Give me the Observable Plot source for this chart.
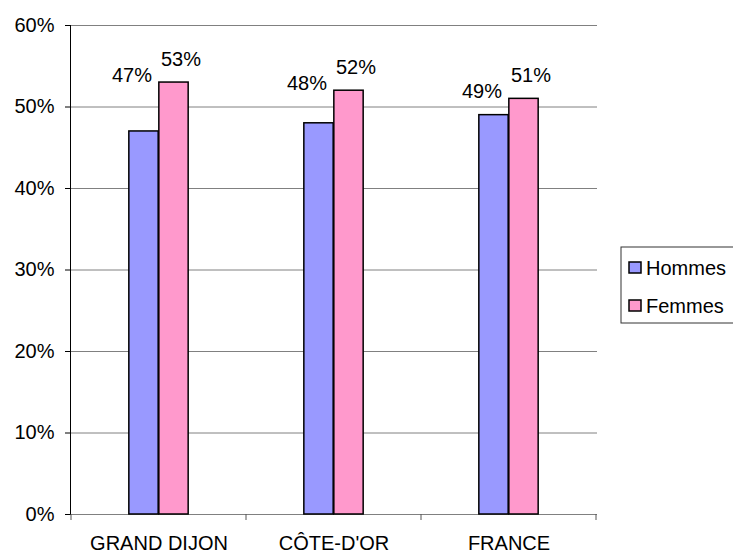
<!DOCTYPE html>
<html>
<head>
<meta charset="utf-8">
<script src="https://cdn.jsdelivr.net/npm/d3@7"></script>
<script src="https://cdn.jsdelivr.net/npm/@observablehq/plot@0.6"></script>
<style>
  html, body { margin: 0; padding: 0; background: #fff; }
  #chart svg { display: block; }
</style>
</head>
<body>
<div id="chart"></div>
<script>
const categories = ["GRAND DIJON", "CÔTE-D'OR", "FRANCE"];
const series = ["Hommes", "Femmes"];
const hommes = [47, 48, 49];
const femmes = [53, 52, 51];
const yTicks = [0, 10, 20, 30, 40, 50, 60];
const colors = ["#9999FF", "#FF99CC"];

const rows = [];
categories.forEach((c, i) => {
  rows.push({category: c, series: "Hommes", value: hommes[i], groupMax: Math.max(hommes[i], femmes[i])});
  rows.push({category: c, series: "Femmes", value: femmes[i], groupMax: Math.max(hommes[i], femmes[i])});
});
const H = rows.filter(d => d.series === "Hommes");
const F = rows.filter(d => d.series === "Femmes");

const W = 733, HT = 553;
const mL = 70, mR = 136, mT = 25, mB = 39;
const bw = (W - mL - mR) / categories.length;
const barW = 30;
const font = "'Liberation Sans', Arial, sans-serif";
const fs = 20;

const plot = Plot.plot({
  width: W,
  height: HT,
  marginLeft: mL,
  marginRight: mR,
  marginTop: mT,
  marginBottom: mB,
  style: {fontFamily: font, fontSize: fs + "px", color: "#000", background: "#fff"},
  x: {domain: categories, padding: 0, label: null},
  y: {domain: [0, 60], label: null},
  color: {domain: series, range: colors},
  marks: [
    Plot.gridY(yTicks, {stroke: "#808080", strokeOpacity: 1}),
    Plot.ruleY([0], {stroke: "#808080"}),
    Plot.frame({anchor: "left", stroke: "#000"}),
    Plot.axisY(yTicks, {tickSize: 5, tickPadding: 11, tickFormat: d => d + "%", stroke: "#000", label: null, fontSize: fs}),
    Plot.axisX({tickSize: 0, tickPadding: 21, label: null, fontSize: fs}),
    Plot.barY(H, {x: "category", y: "value", fill: "series", stroke: "#000", strokeWidth: 1.5,
      insetLeft: bw / 2 - barW, insetRight: bw / 2}),
    Plot.barY(F, {x: "category", y: "value", fill: "series", stroke: "#000", strokeWidth: 1.5,
      insetLeft: bw / 2, insetRight: bw / 2 - barW}),
    Plot.text(H, {x: "category", y: "groupMax", text: d => d.value + "%", dx: -27, dy: -7,
      lineAnchor: "middle", textAnchor: "middle", fill: "#000", fontSize: fs}),
    Plot.text(F, {x: "category", y: "value", text: d => d.value + "%", dx: 22, dy: -23,
      lineAnchor: "middle", textAnchor: "middle", fill: "#000", fontSize: fs})
  ]
});

document.getElementById("chart").appendChild(plot);

// bottom category-boundary ticks, positioned from Plot's own x scale
const svg = d3.select(plot);
const xs = plot.scale("x");
const yScale = plot.scale("y");
const y0 = yScale.apply(0);
const bounds = categories.map(c => xs.apply(c)).concat([xs.apply(categories[categories.length - 1]) + xs.bandwidth]);
svg.append("g").selectAll("line").data(bounds).join("line")
  .attr("x1", d => d).attr("x2", d => d)
  .attr("y1", y0).attr("y2", y0 + 6)
  .attr("stroke", "#555");

// legend
const lg = svg.append("g").attr("font-family", font).attr("font-size", fs).attr("text-anchor", "start");
lg.append("rect").attr("x", 621).attr("y", 247).attr("width", 120).attr("height", 76)
  .attr("fill", "#fff").attr("stroke", "#333");
series.forEach((s, i) => {
  const yy = 268 + i * 38;
  lg.append("rect").attr("x", 629).attr("y", yy - 6).attr("width", 12).attr("height", 11)
    .attr("fill", colors[i]).attr("stroke", "#000").attr("stroke-width", 1.5);
  lg.append("text").attr("x", 646).attr("y", yy).attr("dy", "0.35em")
    .attr("text-anchor", "start").attr("fill", "#000").text(s);
});
</script>
</body>
</html>
